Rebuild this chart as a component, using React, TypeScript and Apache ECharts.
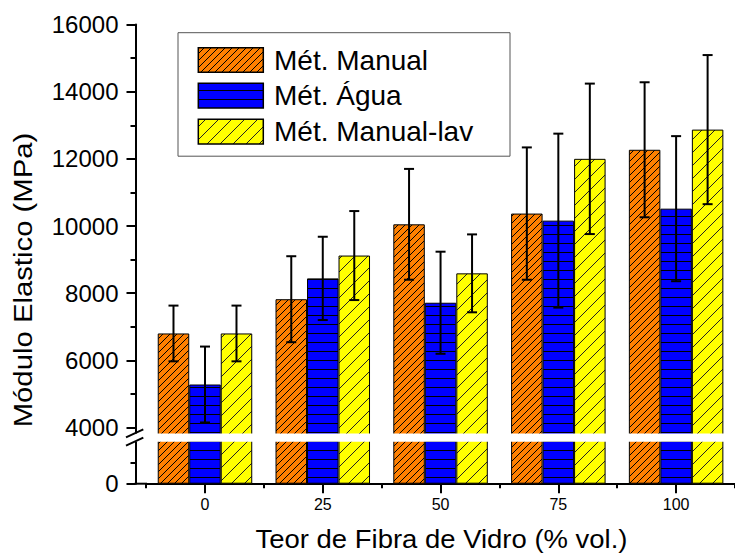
import React, { useEffect, useRef } from "react";
import * as echarts from "echarts";

// Glass-fibre content (% vol.) on the category axis
const categories = ["0", "25", "50", "75", "100"];

// Elastic modulus (MPa): mean and standard deviation for each method
const manualValues = [6800, 7820, 10050, 10370, 12270];
const manualErrors = [830, 1280, 1650, 1970, 2010];
const aguaValues = [5280, 8440, 7715, 10160, 10516];
const aguaErrors = [1130, 1240, 1520, 2590, 2160];
const lavValues = [6800, 9120, 8590, 12000, 12870];
const lavErrors = [830, 1325, 1160, 2240, 2220];

const seriesNames = ["Mét. Manual", "Mét. Água", "Mét. Manual-lav"];

// Ticks on the two segments of the broken y axis
const upperMajorTicks = [4000, 6000, 8000, 10000, 12000, 14000, 16000];
const upperMinorTicks = [5000, 7000, 9000, 11000, 13000, 15000];
const lowerMajorTicks = [0];
const lowerMinorTicks = [2000];

const xTitle = "Teor de Fibra de Vidro (% vol.)";
const yTitle = "Módulo Elastico (MPa)";

// ---- layout ----
const WIDTH = 735;
const HEIGHT = 554;
const FONT = '"Liberation Sans", Arial, Helvetica, sans-serif';
const GRID_LEFT = 146.1;
const AXIS_X = 135.5;
const Y_OFFSET = GRID_LEFT - AXIS_X;

const UPPER_TOP = 24.5;
const UPPER_REF_Y = 427.5; // pixel row of the 4000 tick
const UPPER_MAX = 16000;
const UPPER_REF = 4000;
const UPPER_GRID_BOTTOM = 435.5;
const upperPx = (UPPER_REF_Y - UPPER_TOP) / (UPPER_MAX - UPPER_REF);
const UPPER_MIN = UPPER_REF - (UPPER_GRID_BOTTOM - UPPER_REF_Y) / upperPx;

const LOWER_BOTTOM = 483.7;
const LOWER_GRID_TOP = 439.7;
const lowerPx = 42 / 4000;
const LOWER_MAX = (LOWER_BOTTOM - LOWER_GRID_TOP) / lowerPx;

const GAP_TOP = 433.5;
const GAP_BOTTOM = 441.7;

const BAR_W = 31.5;
const CAP_W = 10;

function diagonalFill(bg: string, ink: string, size: number) {
  const c = document.createElement("canvas");
  c.width = size;
  c.height = size;
  const ctx = c.getContext("2d")!;
  ctx.fillStyle = bg;
  ctx.fillRect(0, 0, size, size);
  ctx.strokeStyle = ink;
  ctx.lineWidth = 1;
  ctx.beginPath();
  ctx.moveTo(-1, size + 1);
  ctx.lineTo(size + 1, -1);
  ctx.moveTo(-1, 1);
  ctx.lineTo(1, -1);
  ctx.moveTo(size - 1, size + 1);
  ctx.lineTo(size + 1, size - 1);
  ctx.stroke();
  return { image: c.toDataURL(), repeat: "repeat", imageWidth: size, imageHeight: size };
}

function horizontalFill(bg: string, ink: string, step: number) {
  const w = 4;
  const c = document.createElement("canvas");
  c.width = w;
  c.height = step;
  const ctx = c.getContext("2d")!;
  ctx.fillStyle = bg;
  ctx.fillRect(0, 0, w, step);
  ctx.fillStyle = ink;
  ctx.fillRect(0, 0, w, 1);
  return { image: c.toDataURL(), repeat: "repeat", imageWidth: w, imageHeight: step };
}

const plainNumber = (v: number) => String(Math.round(v));

export default function App() {
  const ref = useRef<HTMLDivElement>(null);

  useEffect(() => {
    if (!ref.current) return;
    const chart = echarts.init(ref.current, undefined, {
      renderer: "svg",
      width: WIDTH,
      height: HEIGHT,
    });

    const fills = [
      diagonalFill("#FF8000", "#000", 7),
      horizontalFill("#0000FF", "#000", 9),
      diagonalFill("#FFFF00", "#222", 13),
    ];
    const values = [manualValues, aguaValues, lavValues];
    const errors = [manualErrors, aguaErrors, lavErrors];

    const axisLineStyle = { color: "#000", width: 2 };

    const barSeries: any[] = [];
    seriesNames.forEach((name, s) => {
      const itemStyle = { color: fills[s], borderColor: "#000", borderWidth: 1 };
      barSeries.push({
        type: "bar",
        name,
        xAxisIndex: 0,
        yAxisIndex: 0,
        data: values[s],
        barWidth: BAR_W,
        barGap: "0%",
        clip: true,
        itemStyle,
        z: 2,
      });
      barSeries.push({
        type: "bar",
        name,
        xAxisIndex: 1,
        yAxisIndex: 2,
        data: values[s],
        barWidth: BAR_W,
        barGap: "0%",
        clip: true,
        itemStyle,
        z: 2,
      });
    });

    const errorData: number[][] = [];
    values.forEach((vals, s) => {
      vals.forEach((v, i) => errorData.push([i, v, errors[s][i], s]));
    });

    const errorSeries = {
      type: "custom",
      xAxisIndex: 0,
      yAxisIndex: 0,
      data: errorData,
      encode: { x: 0, y: 1 },
      z: 5,
      renderItem: (_params: any, api: any) => {
        const i = api.value(0);
        const v = api.value(1);
        const e = api.value(2);
        const s = api.value(3);
        const hi = api.coord([i, v + e]);
        const lo = api.coord([i, v - e]);
        const x = hi[0] + (s - 1) * BAR_W;
        const st = { stroke: "#000", lineWidth: 2 };
        return {
          type: "group",
          children: [
            { type: "line", shape: { x1: x, y1: hi[1], x2: x, y2: lo[1] }, style: st },
            { type: "line", shape: { x1: x - CAP_W / 2, y1: hi[1], x2: x + CAP_W / 2, y2: hi[1] }, style: st },
            { type: "line", shape: { x1: x - CAP_W / 2, y1: lo[1], x2: x + CAP_W / 2, y2: lo[1] }, style: st },
          ],
        };
      },
    };

    // legend drawn as a framed block of swatches and labels
    const legendX = 178;
    const legendY = 32.7;
    const swatchX = 198.3;
    const swatchTops = [47.7, 83.3, 119.3];
    const legendChildren: any[] = [
      {
        type: "rect",
        shape: { x: legendX, y: legendY, width: 332, height: 123.5 },
        style: { fill: "#fff", stroke: "#555", lineWidth: 1 },
      },
    ];
    seriesNames.forEach((name, s) => {
      legendChildren.push({
        type: "rect",
        shape: { x: swatchX, y: swatchTops[s], width: 65, height: 24.6 },
        style: { fill: fills[s], stroke: "#000", lineWidth: 1.5 },
      });
      legendChildren.push({
        type: "text",
        x: 274,
        y: swatchTops[s] + 12.3,
        style: {
          text: name,
          fill: "#000",
          font: `28px ${FONT}`,
          align: "left",
          verticalAlign: "middle",
        },
      });
    });

    const option: any = {
      animation: false,
      backgroundColor: "#fff",
      textStyle: { fontFamily: FONT },
      grid: [
        {
          left: GRID_LEFT,
          right: 0,
          top: UPPER_TOP,
          height: UPPER_GRID_BOTTOM - UPPER_TOP,
          containLabel: false,
          outerBoundsMode: "none",
        },
        {
          left: GRID_LEFT,
          right: 0,
          top: LOWER_GRID_TOP,
          height: LOWER_BOTTOM - LOWER_GRID_TOP,
          containLabel: false,
          outerBoundsMode: "none",
        },
      ],
      xAxis: [
        { gridIndex: 0, type: "category", data: categories, show: false },
        {
          gridIndex: 1,
          type: "category",
          data: categories,
          position: "bottom",
          axisLine: { show: true, onZero: false, lineStyle: axisLineStyle },
          axisTick: { show: true, interval: 0, length: 4.5, lineStyle: axisLineStyle },
          axisLabel: { show: true, interval: 0, fontSize: 16, color: "#000", margin: 13, fontFamily: FONT },
          splitLine: { show: false },
        },
        {
          gridIndex: 1,
          type: "category",
          data: categories,
          position: "bottom",
          axisLine: { show: false, onZero: false },
          axisTick: { show: true, interval: 0, alignWithLabel: true, length: 9.5, lineStyle: axisLineStyle },
          axisLabel: { show: false },
          splitLine: { show: false },
        },
      ],
      yAxis: [
        {
          gridIndex: 0,
          type: "value",
          position: "left",
          offset: Y_OFFSET,
          min: UPPER_MIN,
          max: UPPER_MAX,
          axisLine: { show: true, onZero: false, lineStyle: axisLineStyle },
          axisTick: { show: true, length: 9, customValues: upperMajorTicks, lineStyle: axisLineStyle },
          axisLabel: {
            show: true,
            customValues: upperMajorTicks,
            formatter: plainNumber,
            fontSize: 24,
            color: "#000",
            margin: 17,
            fontFamily: FONT,
          },
          splitLine: { show: false },
        },
        {
          gridIndex: 0,
          type: "value",
          position: "left",
          offset: Y_OFFSET,
          min: UPPER_MIN,
          max: UPPER_MAX,
          axisLine: { show: false },
          axisTick: { show: true, length: 5, customValues: upperMinorTicks, lineStyle: axisLineStyle },
          axisLabel: { show: false },
          splitLine: { show: false },
        },
        {
          gridIndex: 1,
          type: "value",
          position: "left",
          offset: Y_OFFSET,
          min: 0,
          max: LOWER_MAX,
          axisLine: { show: true, onZero: false, lineStyle: axisLineStyle },
          axisTick: { show: true, length: 9, customValues: lowerMajorTicks, lineStyle: axisLineStyle },
          axisLabel: {
            show: true,
            customValues: lowerMajorTicks,
            formatter: plainNumber,
            fontSize: 24,
            color: "#000",
            margin: 17,
            fontFamily: FONT,
          },
          splitLine: { show: false },
        },
        {
          gridIndex: 1,
          type: "value",
          position: "left",
          offset: Y_OFFSET,
          min: 0,
          max: LOWER_MAX,
          axisLine: { show: false },
          axisTick: { show: true, length: 5, customValues: lowerMinorTicks, lineStyle: axisLineStyle },
          axisLabel: { show: false },
          splitLine: { show: false },
        },
      ],
      series: [...barSeries, errorSeries],
      graphic: [
        // white band of the axis break
        {
          type: "rect",
          z: 50,
          shape: { x: AXIS_X - 2, y: GAP_TOP, width: WIDTH, height: GAP_BOTTOM - GAP_TOP },
          style: { fill: "#fff" },
        },
        // break marks on the y axis
        {
          type: "line",
          z: 60,
          shape: { x1: 126, y1: 437.3, x2: 143.3, y2: 429.3 },
          style: { stroke: "#000", lineWidth: 2 },
        },
        {
          type: "line",
          z: 60,
          shape: { x1: 126, y1: 445.7, x2: 143.3, y2: 437.7 },
          style: { stroke: "#000", lineWidth: 2 },
        },
        // x axis line running back to the y axis
        {
          type: "line",
          z: 60,
          shape: { x1: AXIS_X - 1, y1: LOWER_BOTTOM, x2: GRID_LEFT + 1, y2: LOWER_BOTTOM },
          style: { stroke: "#000", lineWidth: 2 },
        },
        {
          type: "text",
          z: 60,
          x: 441.5,
          y: 539.4,
          scaleX: 1.073,
          style: {
            text: xTitle,
            fill: "#000",
            font: `25.6px ${FONT}`,
            align: "center",
            verticalAlign: "middle",
          },
        },
        {
          type: "text",
          z: 60,
          x: 22.8,
          y: 280,
          rotation: Math.PI / 2,
          scaleX: 1.145,
          style: {
            text: yTitle,
            fill: "#000",
            font: `25.6px ${FONT}`,
            align: "center",
            verticalAlign: "middle",
          },
        },
        { type: "group", z: 70, children: legendChildren },
      ],
    };

    chart.setOption(option);
    return () => chart.dispose();
  }, []);

  return (
    <div
      ref={ref}
      style={{
        position: "fixed",
        left: 0,
        top: 0,
        width: WIDTH,
        height: HEIGHT,
        background: "#fff",
      }}
    />
  );
}
